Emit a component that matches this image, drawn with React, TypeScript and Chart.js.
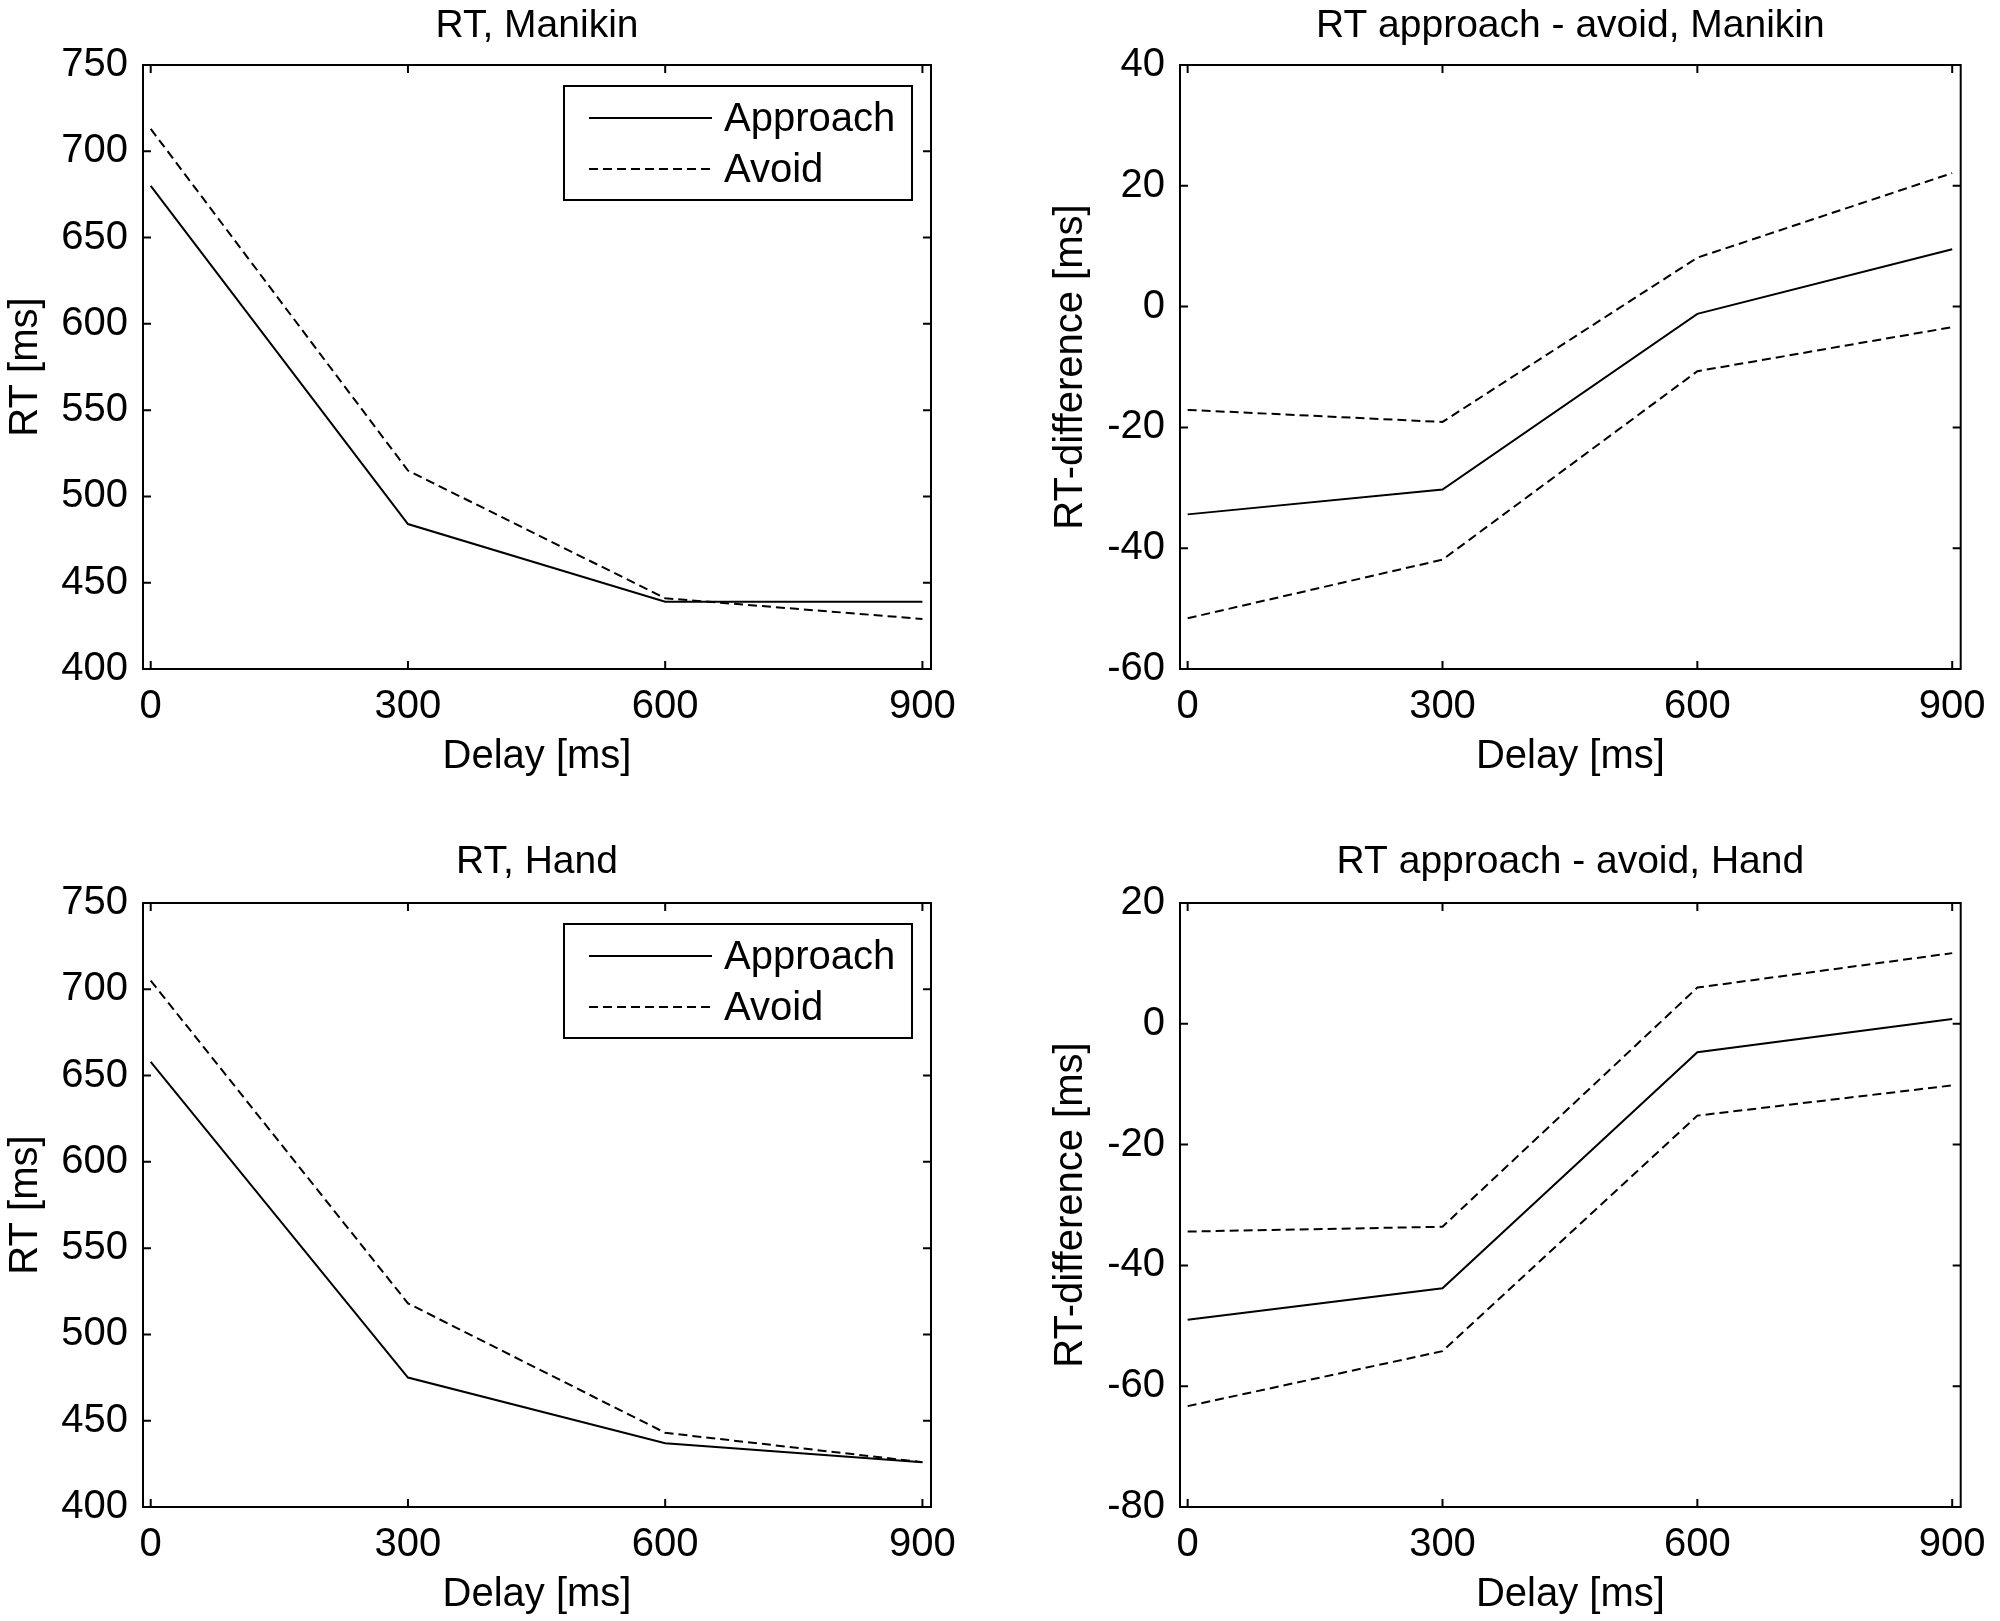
import { useEffect, useRef } from 'react';
import { Chart, registerables } from 'chart.js';

Chart.register(...registerables);

// values
const delays = [0, 300, 600, 900];

const manikinApproach = [680, 484, 439, 439];
const manikinAvoid = [713, 515, 441, 429];
const handApproach = [658, 475, 437, 426];
const handAvoid = [705, 518, 443, 426];

const manikinDiff = [-34.4, -30.3, -1.2, 9.5];
const manikinDiffUpper = [-17.1, -19.1, 8.1, 22.1];
const manikinDiffLower = [-51.6, -41.9, -10.7, -3.4];
const handDiff = [-49.0, -43.8, -4.7, 0.8];
const handDiffUpper = [-34.4, -33.6, 6.0, 11.7];
const handDiffLower = [-63.3, -54.2, -15.2, -10.2];

const rtRange = [400, 750];
const manikinDiffRange = [-60, 40];
const handDiffRange = [-80, 20];
const delayRange = [-9, 910];

const FONT = '"Liberation Sans", Arial, Helvetica, sans-serif';
const TICK_FONT = 40;
const TITLE_FONT = 39;
const TICK_LEN = 8;
const DASH = [9, 5];

type Series = { label: string; values: number[]; dashed: boolean; legend: boolean };

interface PanelProps {
  left: number;
  top: number;
  width: number;
  height: number;
  row: 0 | 1;
  col: 0 | 1;
  title: string;
  yLabel: string;
  yRange: number[];
  yStep: number;
  series: Series[];
  legend: boolean;
}

// box + inward ticks on all four sides, like the MATLAB axes
const matlabFrame = {
  id: 'matlabFrame',
  afterDatasetsDraw(chart: any) {
    const { ctx, chartArea: a, scales } = chart;
    ctx.save();
    ctx.strokeStyle = '#000';
    ctx.lineWidth = 2;
    ctx.strokeRect(a.left, a.top, a.right - a.left, a.bottom - a.top);
    ctx.beginPath();
    scales.x.ticks.forEach((t: any) => {
      const px = scales.x.getPixelForValue(t.value);
      ctx.moveTo(px, a.bottom);
      ctx.lineTo(px, a.bottom - TICK_LEN);
      ctx.moveTo(px, a.top);
      ctx.lineTo(px, a.top + TICK_LEN);
    });
    scales.y.ticks.forEach((t: any) => {
      const py = scales.y.getPixelForValue(t.value);
      ctx.moveTo(a.left, py);
      ctx.lineTo(a.left + TICK_LEN, py);
      ctx.moveTo(a.right, py);
      ctx.lineTo(a.right - TICK_LEN, py);
    });
    ctx.stroke();
    ctx.restore();
  },
};

// legend drawn inside the plot, top right corner
const boxLegend = {
  id: 'boxLegend',
  afterDraw(chart: any, _args: any, opts: any) {
    if (!opts || !opts.display) return;
    const { ctx, chartArea: a } = chart;
    const items = chart.data.datasets.filter((d: any) => d.showInLegend);
    const bx = a.right - 367;
    const by = a.top + 21;
    const bw = 348;
    const bh = 114;
    ctx.save();
    ctx.fillStyle = '#fff';
    ctx.fillRect(bx, by, bw, bh);
    ctx.strokeStyle = '#000';
    ctx.lineWidth = 2;
    ctx.strokeRect(bx, by, bw, bh);
    ctx.font = `${TICK_FONT}px ${FONT}`;
    ctx.textBaseline = 'middle';
    ctx.fillStyle = '#000';
    items.forEach((d: any, i: number) => {
      const y = by + 32 + i * 51;
      ctx.beginPath();
      ctx.lineWidth = d.borderWidth;
      ctx.setLineDash(d.borderDash || []);
      ctx.moveTo(bx + 25, y);
      ctx.lineTo(bx + 148, y);
      ctx.stroke();
      ctx.setLineDash([]);
      ctx.fillText(d.label, bx + 160, y + 2);
    });
    ctx.restore();
  },
};

const Panel = ({ left, top, width, height, row, col, title, yLabel, yRange, yStep, series, legend }: PanelProps) => {
  const canvasRef = useRef<HTMLCanvasElement>(null);
  const chartRef = useRef<Chart | null>(null);

  useEffect(() => {
    if (!canvasRef.current) return;
    if (chartRef.current) chartRef.current.destroy();

    const yAxisWidth = col === 0 ? 143 : 180;
    const padRight = col === 0 ? 69 : 31;
    const yTitlePad = col === 0 ? 2 : 47;
    const plotTop = row === 0 ? 65 : 93;
    const plotBottom = row === 0 ? 669 : 697;
    const titleCenter = row === 0 ? 26 : 52;
    const titleLine = TITLE_FONT * 1.2;
    const titlePadTop = titleCenter - titleLine / 2;
    const titlePadBottom = plotTop - titlePadTop - titleLine;
    const xAxisHeight = height - plotBottom;
    const xTitlePad = height - (plotBottom + 88) - (TICK_FONT * 1.2) / 2;

    chartRef.current = new Chart(canvasRef.current, {
      type: 'line',
      data: {
        datasets: series.map((s) => ({
          label: s.label,
          data: delays.map((d, i) => ({ x: d, y: s.values[i] })),
          borderColor: '#000',
          borderWidth: 2,
          borderDash: s.dashed ? DASH : [],
          pointRadius: 0,
          tension: 0,
          fill: false,
          showInLegend: s.legend,
        })) as any,
      },
      options: {
        animation: false,
        responsive: false,
        devicePixelRatio: 1,
        layout: { padding: { top: 0, left: 0, right: padRight, bottom: 0 } },
        plugins: {
          legend: { display: false },
          tooltip: { enabled: false },
          title: {
            display: true,
            text: title,
            color: '#000',
            fullSize: false,
            font: { family: FONT, size: TITLE_FONT, weight: 'normal', lineHeight: 1.2 },
            padding: { top: titlePadTop, bottom: titlePadBottom },
          },
          boxLegend: { display: legend },
        } as any,
        scales: {
          x: {
            type: 'linear',
            min: delayRange[0],
            max: delayRange[1],
            afterBuildTicks: (s: any) => {
              s.ticks = delays.map((v) => ({ value: v }));
            },
            afterFit: (s: any) => {
              s.height = xAxisHeight;
            },
            grid: { display: false, drawTicks: false },
            border: { display: false },
            ticks: {
              color: '#000',
              autoSkip: false,
              maxRotation: 0,
              padding: 14,
              font: { family: FONT, size: TICK_FONT },
            },
            title: {
              display: true,
              text: 'Delay [ms]',
              color: '#000',
              font: { family: FONT, size: TICK_FONT, lineHeight: 1.2 },
              padding: { top: 0, bottom: xTitlePad },
            },
          },
          y: {
            type: 'linear',
            min: yRange[0],
            max: yRange[1],
            afterFit: (s: any) => {
              s.width = yAxisWidth;
            },
            grid: { display: false, drawTicks: false },
            border: { display: false },
            ticks: {
              color: '#000',
              stepSize: yStep,
              padding: 15,
              font: { family: FONT, size: TICK_FONT },
            },
            title: {
              display: true,
              text: yLabel,
              color: '#000',
              font: { family: FONT, size: TICK_FONT, lineHeight: 1.2 },
              padding: { top: yTitlePad, bottom: 0 },
            },
          },
        },
      },
      plugins: [matlabFrame, boxLegend],
    });

    return () => {
      if (chartRef.current) {
        chartRef.current.destroy();
        chartRef.current = null;
      }
    };
  }, []);

  return (
    <div style={{ position: 'absolute', left, top, width, height }}>
      <canvas ref={canvasRef} width={width} height={height} style={{ width, height, display: 'block' }} />
    </div>
  );
};

export default function App() {
  return (
    <div style={{ position: 'absolute', left: 0, top: 0, width: 2000, height: 1621, background: '#fff' }}>
      <Panel
        left={0} top={0} width={1000} height={810} row={0} col={0}
        title="RT, Manikin" yLabel="RT [ms]" yRange={rtRange} yStep={50} legend
        series={[
          { label: 'Approach', values: manikinApproach, dashed: false, legend: true },
          { label: 'Avoid', values: manikinAvoid, dashed: true, legend: true },
        ]}
      />
      <Panel
        left={1000} top={0} width={1000} height={810} row={0} col={1}
        title="RT approach - avoid, Manikin" yLabel="RT-difference [ms]" yRange={manikinDiffRange} yStep={20} legend={false}
        series={[
          { label: 'Difference', values: manikinDiff, dashed: false, legend: false },
          { label: 'Upper', values: manikinDiffUpper, dashed: true, legend: false },
          { label: 'Lower', values: manikinDiffLower, dashed: true, legend: false },
        ]}
      />
      <Panel
        left={0} top={810} width={1000} height={811} row={1} col={0}
        title="RT, Hand" yLabel="RT [ms]" yRange={rtRange} yStep={50} legend
        series={[
          { label: 'Approach', values: handApproach, dashed: false, legend: true },
          { label: 'Avoid', values: handAvoid, dashed: true, legend: true },
        ]}
      />
      <Panel
        left={1000} top={810} width={1000} height={811} row={1} col={1}
        title="RT approach - avoid, Hand" yLabel="RT-difference [ms]" yRange={handDiffRange} yStep={20} legend={false}
        series={[
          { label: 'Difference', values: handDiff, dashed: false, legend: false },
          { label: 'Upper', values: handDiffUpper, dashed: true, legend: false },
          { label: 'Lower', values: handDiffLower, dashed: true, legend: false },
        ]}
      />
    </div>
  );
}
